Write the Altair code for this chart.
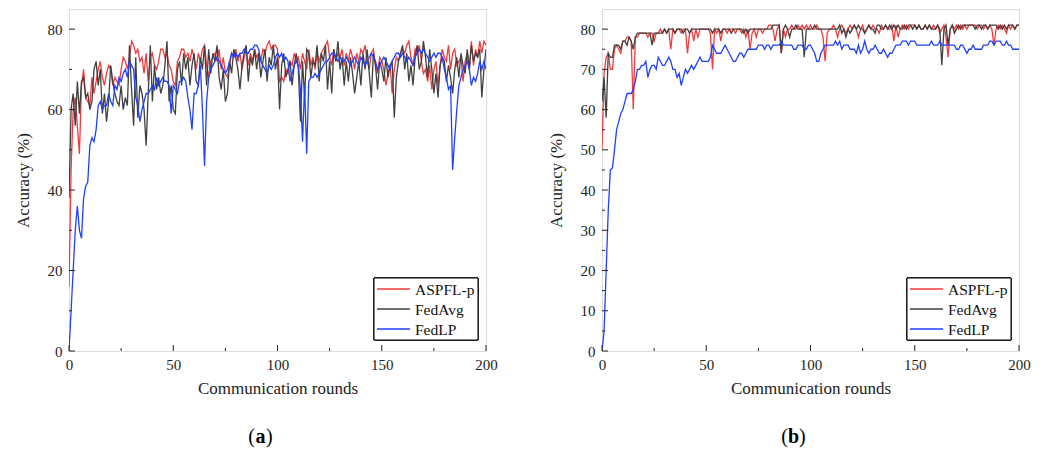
import altair as alt
import pandas as pd

rounds = list(range(201))
series_names = ["ASPFL-p", "FedAvg", "FedLP"]
series_colors = ["#f23a3e", "#404040", "#1f40ff"]

# ---------- panel (a) ----------
a_aspfl = [16, 45, 60, 63, 56, 49, 66, 70, 63, 62,
           61, 68, 64, 67, 70, 72, 68, 66, 69, 71,
           70, 66, 68, 67, 66, 70, 73, 72, 70, 73,
           77, 76, 74, 75, 72, 73, 69, 74, 67, 73,
           74, 71, 70, 72, 75, 75, 73, 74, 71, 70,
           67, 66, 72, 73, 75, 75, 73, 74, 72, 75,
           73, 70, 74, 72, 75, 76, 71, 68, 72, 73,
           74, 72, 75, 70, 73, 69, 68, 71, 74, 73,
           75, 72, 74, 70, 73, 75, 71, 74, 72, 75,
           73, 74, 72, 75, 74, 76, 77, 75, 76, 76,
           75, 67, 68, 67, 70, 69, 72, 71, 74, 72,
           73, 70, 74, 72, 70, 75, 71, 73, 70, 74,
           72, 74, 75, 76, 77, 73, 71, 75, 72, 74,
           73, 75, 71, 74, 72, 75, 73, 70, 74, 72,
           75, 74, 76, 72, 70, 74, 75, 71, 69, 73,
           72, 70, 66, 69, 71, 64, 70, 73, 72, 74,
           75, 74, 76, 77, 73, 71, 75, 74, 76, 72,
           69, 70, 67, 71, 65, 70, 72, 66, 71, 75,
           73, 72, 76, 70, 74, 75, 71, 72, 73, 67,
           72, 74, 70, 77, 71, 75, 73, 77, 74, 77,
           76]
a_fedavg = [38, 60, 64, 56, 67, 59, 67, 68, 63, 64,
            60, 62, 70, 72, 66, 70, 59, 64, 57, 62,
            71, 67, 64, 62, 61, 66, 60, 63, 61, 76,
            65, 56, 73, 58, 66, 64, 60, 51, 64, 76,
            62, 71, 65, 68, 64, 66, 71, 77, 62, 66,
            60, 59, 70, 72, 66, 74, 70, 73, 66, 71,
            74, 67, 66, 73, 70, 76, 66, 75, 69, 74,
            72, 76, 68, 65, 70, 62, 64, 72, 69, 75,
            73, 70, 65, 71, 74, 76, 67, 73, 71, 75,
            70, 74, 68, 72, 75, 67, 73, 71, 76, 70,
            73, 60, 71, 74, 68, 70, 72, 66, 71, 74,
            70, 57, 72, 63, 75, 74, 68, 72, 71, 76,
            67, 74, 72, 76, 65, 72, 64, 75, 72, 77,
            70, 73, 66, 72, 67, 73, 69, 64, 68, 72,
            66, 74, 70, 75, 69, 63, 74, 71, 65, 72,
            70, 67, 73, 68, 71, 72, 58, 68, 72, 74,
            76, 70, 74, 67, 71, 66, 73, 76, 70, 72,
            77, 73, 68, 75, 70, 64, 69, 63, 71, 73,
            72, 67, 71, 68, 64, 70, 73, 68, 74, 71,
            69, 75, 70, 76, 72, 74, 73, 75, 63, 70,
            75]
a_fedlp = [0, 10, 20, 30, 36, 30, 28, 38, 41, 42,
           51, 53, 52, 55, 61, 62, 60, 61, 61, 64,
           62, 61, 66, 65, 68, 67, 69, 70, 68, 72,
           71, 70, 63, 61, 57, 60, 62, 64, 64, 65,
           66, 65, 68, 66, 67, 68, 67, 67, 66, 59,
           66, 65, 64, 67, 67, 68, 67, 63, 60, 55,
           64, 64, 66, 71, 60, 46, 62, 68, 70, 71,
           72, 73, 72, 71, 70, 69, 70, 72, 74, 73,
           74, 73, 74, 74, 75, 74, 74, 75, 75, 76,
           76, 75, 72, 71, 70, 69, 71, 70, 71, 73,
           74, 73, 74, 72, 73, 72, 67, 69, 71, 72,
           71, 65, 52, 66, 49, 67, 68, 68, 69, 68,
           69, 70, 71, 72, 72, 73, 74, 74, 73, 72,
           73, 72, 72, 73, 72, 71, 72, 73, 72, 71,
           73, 72, 71, 72, 73, 74, 73, 72, 70, 71,
           72, 73, 72, 71, 70, 72, 73, 74, 74, 73,
           74, 73, 72, 73, 72, 71, 73, 74, 75, 74,
           75, 74, 73, 72, 73, 74, 73, 74, 74, 73,
           70, 68, 65, 66, 45, 53, 60, 66, 68, 70,
           71, 72, 70, 66, 68, 67, 69, 72, 70, 72,
           70]

# ---------- panel (b) ----------
b_aspfl = [50, 69, 73, 74, 70, 70, 75, 76, 75, 74,
           77, 77, 78, 78, 77, 60, 78, 78, 79, 79,
           79, 79, 78, 79, 79, 77, 79, 79, 80, 79,
           80, 79, 80, 75, 80, 79, 80, 80, 79, 80,
           80, 74, 79, 80, 77, 80, 78, 80, 80, 80,
           80, 80, 79, 70, 80, 79, 80, 77, 80, 80,
           79, 80, 80, 80, 79, 80, 80, 79, 80, 78,
           80, 75, 79, 80, 78, 80, 80, 79, 80, 80,
           81, 81, 80, 77, 80, 81, 74, 80, 78, 80,
           80, 81, 80, 80, 81, 80, 81, 80, 81, 80,
           81, 80, 80, 81, 80, 80, 78, 72, 79, 80,
           80, 81, 80, 78, 80, 81, 80, 79, 80, 81,
           80, 81, 80, 78, 80, 81, 79, 80, 81, 80,
           81, 80, 80, 79, 81, 80, 81, 80, 80, 81,
           77, 81, 78, 80, 81, 80, 81, 80, 81, 81,
           81, 80, 81, 80, 80, 81, 80, 81, 80, 81,
           80, 81, 79, 80, 81, 78, 73, 80, 81, 80,
           81, 80, 81, 80, 81, 80, 81, 81, 81, 81,
           80, 81, 81, 80, 81, 80, 81, 80, 76, 80,
           81, 80, 81, 80, 79, 81, 80, 81, 80, 81,
           81]
b_fedavg = [62, 68, 58, 74, 73, 73, 76, 76, 76, 75,
            77, 77, 76, 78, 77, 75, 78, 79, 79, 79,
            79, 79, 79, 79, 76, 79, 79, 79, 79, 79,
            80, 79, 80, 80, 80, 79, 80, 80, 80, 79,
            80, 80, 79, 80, 80, 80, 80, 80, 80, 80,
            80, 80, 80, 79, 80, 80, 80, 79, 80, 80,
            80, 80, 79, 80, 80, 80, 80, 80, 79, 80,
            79, 80, 80, 80, 80, 80, 80, 80, 80, 80,
            80, 80, 81, 81, 81, 81, 74, 80, 81, 80,
            78, 80, 80, 81, 80, 80, 80, 73, 80, 80,
            80, 80, 81, 80, 80, 80, 80, 80, 80, 80,
            80, 80, 80, 80, 81, 79, 80, 78, 80, 79,
            80, 81, 80, 81, 80, 80, 79, 80, 81, 80,
            80, 79, 81, 81, 80, 80, 81, 80, 81, 80,
            81, 80, 81, 80, 80, 81, 80, 81, 81, 80,
            81, 80, 81, 80, 80, 81, 80, 81, 80, 80,
            80, 81, 80, 71, 80, 81, 76, 80, 81, 79,
            80, 81, 80, 81, 81, 81, 81, 81, 81, 80,
            81, 81, 80, 81, 81, 80, 81, 81, 81, 81,
            80, 81, 80, 81, 80, 81, 81, 81, 80, 81,
            81]
b_fedlp = [0, 5, 20, 35, 45, 45.5, 50, 55, 57, 59,
           60, 62, 64, 64, 64, 65, 67, 70, 70, 71,
           71, 72, 68, 70, 71, 71, 70, 73, 72, 71,
           71, 72, 73, 72, 70, 70, 68, 69, 66, 68,
           70, 69, 70, 71, 70, 71, 72, 73, 72, 72,
           72, 72, 73, 76, 75, 74, 74, 74, 75, 76,
           75, 74, 73, 72, 72, 73, 74, 74, 73, 74,
           75, 75, 75, 75, 75, 76, 76, 76, 75, 76,
           76, 75, 76, 76, 76, 76, 77, 76, 76, 76,
           76, 76, 75, 75, 76, 76, 76, 75, 75, 76,
           76, 75, 74, 72, 72, 74, 75, 76, 76, 76,
           76, 76, 77, 76, 77, 75, 76, 76, 76, 75,
           75, 75, 74, 76, 74, 75, 77, 75, 74, 75,
           75, 76, 75, 74, 74, 75, 74, 73, 74, 74,
           75, 76, 76, 76, 77, 77, 77, 76, 77, 77,
           77, 76, 76, 76, 76, 76, 76, 76, 77, 76,
           76, 76, 77, 76, 76, 76, 76, 76, 76, 76,
           75, 75, 76, 76, 75, 74, 75, 75, 76, 75,
           75, 75, 75, 76, 76, 76, 77, 77, 76, 77,
           77, 77, 76, 76, 77, 76, 76, 75, 75, 75,
           75]

x_major = [0, 50, 100, 150, 200]
x_minor = [25, 75, 125, 175]
a_y_major = [0, 20, 40, 60, 80]
a_y_minor = [10, 30, 50, 70]
b_y_major = [0, 10, 20, 30, 40, 50, 60, 70, 80]
b_y_minor = [5, 15, 25, 35, 45, 55, 65, 75]

FONT = "'Liberation Serif', 'Times New Roman', Times, serif"
W, H = 417, 342
INK = "#222222"


def panel(vals, y_major, y_minor, letter):
    df = pd.DataFrame({
        "round": rounds * 3,
        "acc": vals[0] + vals[1] + vals[2],
        "series": [n for n in series_names for _ in rounds],
    })
    xs = alt.Scale(domain=[0, 200], nice=False)
    ys = alt.Scale(domain=[0, 85], nice=False)
    x_axis = alt.Axis(
        values=x_major, title="Communication rounds", ticks=False, tickSize=0,
        domain=False, grid=False, labelFont=FONT, labelFontSize=15,
        labelColor=INK, labelPadding=6, titleFont=FONT, titleFontSize=17,
        titleFontWeight="normal", titleColor=INK, titlePadding=8,
        labelFlush=False)
    y_axis = alt.Axis(
        values=y_major, title="Accuracy (%)", ticks=False, tickSize=0,
        domain=False, grid=False, labelFont=FONT, labelFontSize=15,
        labelColor=INK, labelPadding=7, titleFont=FONT, titleFontSize=17,
        titleFontWeight="normal", titleColor=INK, titlePadding=15,
        labelFlush=False)
    X = alt.X("round:Q", scale=xs, axis=x_axis)
    Y = alt.Y("acc:Q", scale=ys, axis=y_axis)
    lines = alt.Chart(df).mark_line(strokeWidth=1.3, clip=True).encode(
        x=X, y=Y,
        color=alt.Color("series:N", scale=alt.Scale(domain=series_names, range=series_colors),
                        legend=None),
    )
    xt_major = alt.Chart(pd.DataFrame({"round": x_major})).mark_rule(color=INK, strokeWidth=1).encode(
        x=X, y=alt.value(H), y2=alt.value(H - 6))
    xt_minor = alt.Chart(pd.DataFrame({"round": x_minor})).mark_rule(color=INK, strokeWidth=1).encode(
        x=X, y=alt.value(H), y2=alt.value(H - 3))
    yt_major = alt.Chart(pd.DataFrame({"acc": y_major})).mark_rule(color=INK, strokeWidth=1).encode(
        y=Y, x=alt.value(0), x2=alt.value(6))
    yt_minor = alt.Chart(pd.DataFrame({"acc": y_minor})).mark_rule(color=INK, strokeWidth=1).encode(
        y=Y, x=alt.value(0), x2=alt.value(3))

    # legend box (upper-left at lx, ly inside the plot area)
    lx, ly, lw, lh = 305, 269, 104, 62
    leg = pd.DataFrame({"name": series_names})
    layers = [lines, xt_major, xt_minor, yt_major, yt_minor]
    layers.append(alt.Chart(leg).mark_rect(fill="white", stroke="#000000", strokeWidth=1).encode(
        x=alt.value(lx), x2=alt.value(lx + lw), y=alt.value(ly), y2=alt.value(ly + lh)))
    for i, (name, col) in enumerate(zip(series_names, series_colors)):
        one = pd.DataFrame({"name": [name]})
        ry = ly + 11 + 20 * i
        layers.append(alt.Chart(one).mark_rule(color=col, strokeWidth=1.5).encode(
            x=alt.value(lx + 3), x2=alt.value(lx + 36), y=alt.value(ry)))
        layers.append(alt.Chart(one).mark_text(font=FONT, fontSize=15.5, color="#111111",
                                               align="left", baseline="middle").encode(
            text="name:N", x=alt.value(lx + 41), y=alt.value(ry + 1)))

    cap = pd.DataFrame({"t": [letter]})
    cx = W / 2 - 17
    cy = H + 86
    layers.append(alt.Chart(cap).mark_text(font=FONT, fontSize=20, color="#000", text="(",
                                           align="right", baseline="middle").encode(
        x=alt.value(cx - 5.5), y=alt.value(cy)))
    layers.append(alt.Chart(cap).mark_text(font=FONT, fontSize=20, fontWeight="bold", color="#000",
                                           align="center", baseline="middle").encode(
        text="t:N", x=alt.value(cx), y=alt.value(cy)))
    layers.append(alt.Chart(cap).mark_text(font=FONT, fontSize=20, color="#000", text=")",
                                           align="left", baseline="middle").encode(
        x=alt.value(cx + 5.5), y=alt.value(cy)))
    return alt.layer(*layers).properties(width=W, height=H)


pa = panel([a_aspfl, a_fedavg, a_fedlp], a_y_major, a_y_minor, "a")
pb = panel([b_aspfl, b_fedavg, b_fedlp], b_y_major, b_y_minor, "b")

chart = alt.hconcat(pa, pb, spacing=48).resolve_scale(color="independent").properties(
    padding={"left": 5, "top": 0, "right": 5, "bottom": 0}
).configure_view(stroke="#222222", strokeWidth=1).configure(background="white")

chart.save("out.html", embed_options={"renderer": "svg", "actions": False})
